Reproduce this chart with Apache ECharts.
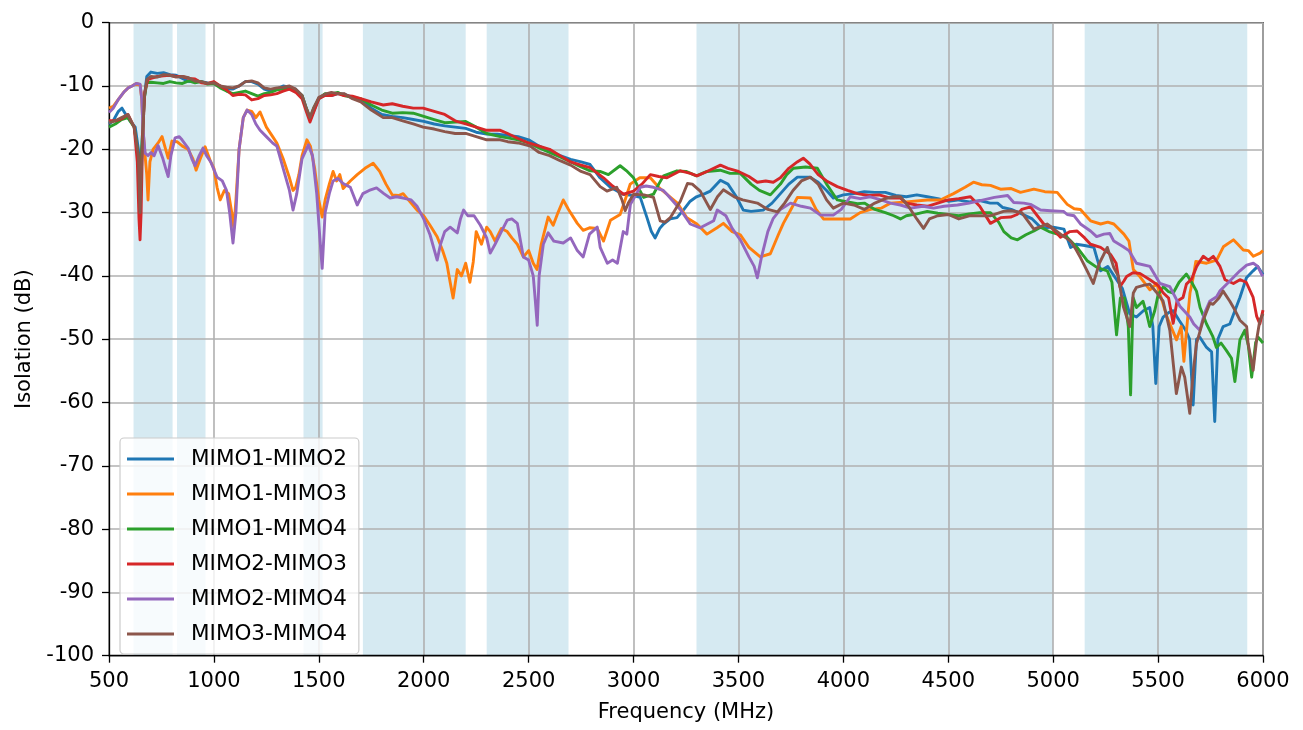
<!DOCTYPE html>
<html>
<head>
<meta charset="utf-8">
<script src="https://cdn.jsdelivr.net/npm/echarts@6/dist/echarts.min.js"></script>
<style>
html,body{margin:0;padding:0;background:#fff;}
#chart{width:1303px;height:730px;}
</style>
</head>
<body>
<div id="chart"></div>
<script>
const seriesNames = ['MIMO1-MIMO2','MIMO1-MIMO3','MIMO1-MIMO4','MIMO2-MIMO3','MIMO2-MIMO4','MIMO3-MIMO4'];
const xTicks = [500,1000,1500,2000,2500,3000,3500,4000,4500,5000,5500,6000];
const yTicks = [0,-10,-20,-30,-40,-50,-60,-70,-80,-90,-100];
const bands = [[617,803],[824,960],[1427,1518],[1710,2200],[2300,2690],[3300,5000],[5150,5925]];

const mimo12 = [[500,-16],[520,-15.5],[545,-14],[562,-13.5],[580,-14.5],[600,-15.5],[625,-16.5],[640,-20],[648,-25],[656,-20],[668,-12],[680,-8.5],[700,-7.8],[730,-8],[760,-7.9],[790,-8.2],[820,-8.3],[850,-8.8],[880,-9.3],[910,-9.2],[940,-9.3],[970,-9.5],[1000,-9.6],[1030,-10],[1060,-10.5],[1090,-10.5],[1120,-10],[1150,-9.3],[1180,-9.3],[1210,-9.7],[1240,-10.5],[1270,-10.8],[1300,-10.5],[1330,-10],[1360,-10.2],[1390,-10.5],[1420,-11.5],[1440,-13.5],[1458,-15.3],[1475,-14],[1500,-12],[1530,-11.3],[1560,-11.5],[1590,-11.2],[1620,-11.3],[1660,-11.8],[1700,-12.2],[1750,-13.5],[1800,-14.5],[1850,-14.8],[1900,-15],[1950,-15.3],[2000,-15.6],[2050,-16],[2100,-16.3],[2150,-16.5],[2200,-16.7],[2250,-17.3],[2300,-17.6],[2350,-17.6],[2400,-17.8],[2450,-18],[2500,-18.5],[2550,-19.5],[2600,-20.3],[2650,-21],[2700,-21.6],[2750,-22],[2793,-22.4],[2840,-24.5],[2889,-26],[2950,-27.1],[3000,-27.3],[3032,-27.6],[3064,-30.8],[3085,-33],[3103,-34],[3125,-32.5],[3143,-31.8],[3175,-31],[3207,-30.8],[3240,-29.5],[3270,-28.2],[3300,-27.5],[3340,-27],[3366,-26.6],[3414,-24.9],[3450,-25.5],[3490,-27.5],[3523,-29.6],[3560,-29.8],[3618,-29.6],[3660,-28.5],[3700,-27],[3740,-25.5],[3781,-24.4],[3840,-24.4],[3880,-25.2],[3920,-26.5],[3952,-27.7],[4000,-27.2],[4050,-27],[4100,-26.7],[4150,-26.8],[4200,-26.8],[4250,-27.3],[4300,-27.5],[4350,-27.2],[4400,-27.5],[4450,-27.8],[4500,-28.2],[4544,-28],[4600,-28.3],[4650,-28.1],[4700,-28.5],[4735,-28.5],[4760,-29.2],[4800,-29.5],[4850,-30.2],[4900,-31],[4936,-32.2],[4955,-32.4],[5000,-32.3],[5051,-32.6],[5083,-35.5],[5110,-35],[5150,-35.2],[5194,-35.5],[5226,-39.2],[5260,-38.5],[5300,-40.5],[5330,-42],[5365,-46],[5397,-46.5],[5430,-45.5],[5460,-45],[5475,-48],[5489,-57],[5505,-48],[5524,-46.5],[5550,-45.8],[5572,-45.5],[5600,-47],[5630,-48.5],[5650,-50],[5667,-60.4],[5683,-50],[5699,-49.7],[5731,-51.3],[5755,-52],[5770,-63],[5785,-50],[5810,-48],[5842,-47.6],[5866,-45.5],[5890,-43.4],[5921,-40.3],[5953,-39.2],[5975,-38.5],[6000,-39.8]];

const mimo13 = [[500,-13.5],[520,-13.2],[543,-12.2],[570,-11],[591,-10.3],[610,-10],[630,-9.6],[648,-9.8],[656,-12],[662,-16.8],[672,-21],[680,-24],[686,-28],[695,-22],[710,-20],[734,-19],[753,-18],[770,-20],[782,-21.4],[800,-18.7],[824,-18.8],[850,-19.5],[877,-20],[900,-21.5],[915,-23.3],[935,-21.5],[958,-19.6],[985,-22],[1000,-23],[1015,-26],[1030,-28],[1050,-26.5],[1070,-27],[1085,-30],[1095,-32.5],[1105,-28],[1120,-20],[1140,-15],[1158,-13.8],[1180,-14],[1200,-15],[1220,-14.1],[1250,-16.5],[1280,-18],[1300,-19],[1330,-21.5],[1360,-24.5],[1377,-26.5],[1390,-26],[1405,-24],[1420,-21],[1443,-18.5],[1460,-19.5],[1480,-23],[1500,-28],[1516,-30.7],[1530,-28],[1550,-25.5],[1568,-23.5],[1585,-25],[1600,-24],[1616,-26.2],[1650,-25],[1683,-24],[1720,-23],[1759,-22.2],[1790,-23.5],[1820,-25.5],[1850,-27.2],[1880,-27.3],[1902,-27],[1940,-28.5],[1968,-29.6],[2000,-30.5],[2030,-32],[2064,-33.8],[2090,-36],[2110,-38],[2126,-41],[2140,-43.5],[2160,-39],[2180,-40],[2200,-38],[2220,-41],[2236,-37.8],[2250,-33],[2275,-35],[2300,-32.3],[2317,-33],[2340,-34.5],[2370,-32.5],[2398,-33],[2420,-34],[2446,-35],[2475,-37],[2500,-36],[2522,-38],[2540,-39],[2560,-35],[2593,-30.7],[2617,-32],[2640,-30],[2665,-28],[2690,-29.5],[2732,-31.7],[2760,-32.8],[2790,-32.4],[2827,-32.5],[2857,-34.5],[2890,-31.2],[2936,-30.3],[2960,-28],[2984,-25.5],[3030,-24.5],[3080,-24.5],[3120,-26],[3159,-27.1],[3209,-28.5],[3254,-30.8],[3302,-31.8],[3350,-33.4],[3398,-32.4],[3428,-31.7],[3470,-33],[3509,-33.5],[3550,-35.5],[3604,-37],[3652,-36.5],[3690,-33.5],[3714,-31.7],[3750,-29.5],[3781,-27.6],[3843,-27.7],[3870,-29.5],[3905,-31],[3950,-31],[4000,-31],[4033,-31],[4080,-30],[4130,-29.5],[4180,-29.3],[4224,-28.5],[4300,-28.3],[4400,-28],[4462,-28],[4525,-27],[4580,-26],[4620,-25.2],[4660,-25.6],[4701,-25.7],[4749,-26.3],[4800,-26.2],[4844,-26.8],[4908,-26.3],[4960,-26.7],[5019,-26.8],[5067,-28.7],[5100,-29.4],[5130,-29.5],[5178,-31.3],[5226,-31.8],[5260,-31.5],[5289,-31.8],[5337,-33.4],[5361,-34.5],[5382,-39],[5413,-40.1],[5461,-42.2],[5493,-41.2],[5520,-44],[5541,-46.4],[5588,-50.1],[5610,-48],[5623,-53.5],[5640,-47],[5652,-42.7],[5667,-40.3],[5680,-37.7],[5731,-38],[5779,-37.5],[5811,-35.4],[5859,-34.3],[5880,-35],[5906,-35.9],[5930,-36],[5954,-36.9],[5986,-36.4],[6000,-36]];

const mimo14 = [[500,-16.5],[530,-16],[560,-15.3],[590,-15],[620,-16.5],[640,-21],[648,-28],[656,-20],[668,-12],[680,-9.5],[700,-9.4],[730,-9.5],[760,-9.6],[790,-9.3],[820,-9.5],[850,-9.6],[880,-9.2],[910,-9.5],[940,-9.3],[970,-9.7],[1000,-9.6],[1030,-10.3],[1060,-10.8],[1090,-11.2],[1120,-11],[1150,-10.8],[1180,-11.2],[1210,-11.6],[1240,-11.2],[1270,-11],[1300,-10.6],[1330,-10.5],[1360,-10.5],[1390,-10.6],[1420,-11.5],[1440,-13.5],[1458,-15],[1475,-13.5],[1500,-12],[1530,-11.2],[1560,-11.3],[1590,-11],[1620,-11.5],[1660,-11.8],[1700,-12],[1750,-13],[1800,-13.8],[1850,-14.3],[1900,-14.2],[1950,-14.3],[2000,-14.8],[2050,-15.3],[2100,-15.8],[2150,-15.7],[2200,-15.6],[2250,-16.5],[2300,-17.5],[2365,-18],[2400,-18.2],[2450,-18.5],[2500,-19],[2550,-19.8],[2600,-20.5],[2650,-21.2],[2700,-22],[2750,-22.8],[2793,-23.4],[2840,-23.5],[2880,-24],[2936,-22.6],[2970,-23.5],[3000,-24.5],[3030,-26.5],[3048,-27.6],[3095,-27.1],[3120,-25.5],[3143,-24.2],[3207,-23.4],[3250,-23.5],[3300,-24.2],[3350,-23.5],[3413,-23.3],[3460,-23.8],[3509,-23.8],[3560,-25.5],[3600,-26.5],[3652,-27.2],[3700,-25.5],[3730,-24],[3762,-23],[3820,-22.8],[3876,-23],[3920,-25.5],[3971,-28],[4020,-28.3],[4067,-28.6],[4100,-28.5],[4150,-29.5],[4200,-30],[4240,-30.5],[4272,-31],[4300,-30.5],[4350,-30.2],[4400,-29.8],[4450,-30.1],[4500,-30.3],[4550,-30.5],[4600,-30.2],[4650,-30],[4701,-30],[4740,-31.5],[4765,-33],[4800,-34],[4830,-34.3],[4870,-33.5],[4908,-32.9],[4940,-32.3],[4980,-33],[5021,-33.4],[5064,-33.8],[5114,-35.5],[5162,-37.6],[5210,-38.7],[5258,-39.2],[5280,-41],[5302,-49.3],[5320,-43.5],[5340,-43.5],[5358,-48],[5369,-58.8],[5381,-43.4],[5397,-45],[5428,-44],[5445,-45.9],[5460,-48],[5484,-45.5],[5500,-43],[5525,-41.7],[5550,-42.5],[5572,-42.7],[5600,-41],[5635,-39.7],[5660,-41],[5683,-42.4],[5700,-45],[5731,-47.6],[5760,-49.5],[5778,-51.3],[5800,-50.6],[5826,-51.8],[5850,-53],[5866,-56.7],[5890,-50.1],[5913,-48.6],[5930,-51],[5946,-56],[5965,-50.5],[5977,-49.7],[6000,-50.6]];

const mimo23 = [[500,-15.5],[530,-15.5],[560,-15.2],[590,-14.5],[620,-16.5],[635,-22],[643,-31],[648,-34.3],[653,-30],[660,-18],[670,-11],[685,-9],[700,-8.8],[730,-8.5],[760,-8.4],[790,-8.3],[820,-8.5],[850,-8.5],[880,-8.8],[910,-8.9],[940,-9.5],[970,-9.6],[1000,-9.3],[1030,-10],[1060,-10.6],[1090,-11.5],[1120,-11.3],[1150,-11.4],[1180,-12.2],[1210,-12],[1240,-11.5],[1270,-11.4],[1300,-11.2],[1330,-10.8],[1360,-10.5],[1390,-11],[1420,-12],[1440,-14],[1458,-15.7],[1475,-14.2],[1500,-12],[1530,-11.5],[1560,-11.5],[1590,-11.2],[1620,-11.5],[1660,-11.6],[1700,-12],[1750,-12.5],[1807,-13],[1850,-12.8],[1900,-13.2],[1950,-13.5],[1997,-13.5],[2050,-14],[2100,-14.5],[2150,-15.5],[2200,-16],[2250,-16.5],[2300,-17],[2365,-17],[2400,-17.5],[2450,-18.3],[2500,-19],[2550,-19.5],[2600,-20],[2650,-21],[2700,-22],[2750,-22.5],[2793,-22.9],[2857,-24.5],[2900,-25.8],[2952,-27.1],[3000,-26.6],[3040,-25.5],[3080,-24],[3120,-24.3],[3159,-24.5],[3223,-23.4],[3271,-23.8],[3302,-24.2],[3350,-23.5],[3414,-22.5],[3450,-23],[3500,-23.5],[3550,-24.3],[3590,-25.2],[3630,-25],[3666,-25.2],[3700,-24.5],[3740,-23],[3780,-22],[3809,-21.4],[3840,-22.3],[3880,-24],[3920,-25],[3971,-25.9],[4020,-26.5],[4067,-27],[4120,-27.3],[4170,-27.2],[4224,-27.7],[4272,-27.7],[4300,-28.5],[4350,-28.8],[4400,-29],[4450,-28.5],[4500,-28],[4550,-27.8],[4606,-27.5],[4650,-29],[4701,-31.7],[4750,-30.8],[4797,-30.7],[4828,-30.3],[4850,-29.5],[4892,-29.1],[4955,-31.8],[4990,-32.3],[5035,-33.9],[5080,-33],[5114,-32.9],[5150,-34],[5178,-35],[5226,-35.5],[5273,-36.6],[5300,-38],[5318,-41.7],[5337,-40.8],[5350,-40.1],[5380,-39.5],[5413,-39.6],[5461,-40.6],[5500,-41.5],[5525,-42.7],[5550,-43.5],[5572,-47.5],[5590,-44],[5619,-43.4],[5635,-41.3],[5660,-40.5],[5684,-38.5],[5715,-36.9],[5740,-37.5],[5763,-36.9],[5795,-38.5],[5819,-40.6],[5859,-41.2],[5890,-40.6],[5920,-41],[5953,-43.4],[5970,-46.4],[5985,-47.6],[6000,-45.4]];

const mimo24 = [[500,-14.2],[520,-13.5],[543,-12.2],[570,-11],[591,-10.3],[610,-10],[630,-9.6],[648,-9.7],[656,-12],[662,-16.8],[672,-20.6],[686,-21],[700,-20.5],[715,-21],[734,-19.4],[757,-21.5],[770,-23],[782,-24.3],[795,-21],[815,-18.2],[835,-18],[848,-18.5],[877,-19.8],[895,-21.5],[910,-22.6],[930,-21],[948,-19.8],[965,-21],[985,-22],[1015,-24.4],[1040,-25],[1060,-26.5],[1075,-30],[1091,-34.8],[1105,-30],[1120,-20],[1140,-15],[1158,-13.8],[1180,-14.5],[1200,-16],[1220,-17],[1250,-18],[1280,-19],[1300,-19.5],[1330,-23],[1360,-26.5],[1377,-29.6],[1395,-27],[1420,-21.5],[1450,-19.3],[1470,-21],[1490,-27],[1505,-34],[1516,-38.8],[1530,-30],[1550,-27],[1568,-25],[1590,-24.6],[1616,-25.4],[1650,-26],[1683,-28.8],[1710,-27],[1740,-26.5],[1775,-26.1],[1810,-27],[1840,-27.7],[1870,-27.5],[1902,-27.7],[1940,-28],[1968,-29],[2000,-31],[2030,-33.5],[2064,-37.5],[2080,-35],[2100,-33],[2126,-32.3],[2160,-33.2],[2175,-31],[2190,-29.6],[2210,-30.5],[2240,-30.5],[2270,-32],[2300,-34],[2317,-36.4],[2340,-35],[2370,-33],[2398,-31.2],[2420,-31],[2446,-31.7],[2475,-37],[2500,-37.5],[2522,-40],[2532,-44],[2541,-47.8],[2550,-40],[2570,-35],[2593,-33.2],[2620,-34.5],[2665,-34.8],[2700,-34],[2732,-36],[2760,-37],[2790,-33.4],[2827,-32.3],[2841,-35.5],[2875,-38],[2900,-37.5],[2923,-38],[2951,-33],[2968,-33.4],[2985,-28.7],[3032,-26],[3060,-25.8],[3095,-26],[3142,-26.5],[3159,-27.1],[3223,-29.5],[3270,-31.8],[3318,-32.4],[3382,-31.3],[3399,-29.6],[3440,-30.5],[3470,-32.5],[3509,-34.3],[3550,-37],[3575,-38.5],[3590,-40.3],[3610,-37],[3640,-33],[3666,-30.9],[3700,-29.5],[3748,-28.5],[3800,-29],[3843,-29.3],[3891,-30.4],[3952,-30.4],[3990,-29.5],[4033,-27.5],[4080,-27.8],[4128,-27.5],[4180,-28],[4224,-28.5],[4272,-28.8],[4320,-29.3],[4380,-29],[4430,-29.3],[4480,-29],[4544,-28.8],[4600,-28.5],[4668,-28],[4720,-27.6],[4783,-27.3],[4812,-28.4],[4860,-28.5],[4892,-28.7],[4940,-29.6],[4987,-29.7],[5049,-29.8],[5067,-30.3],[5100,-30.5],[5130,-31.8],[5178,-32.9],[5207,-33.8],[5242,-33.4],[5270,-33.3],[5289,-34.5],[5334,-35.4],[5361,-36],[5397,-38],[5461,-38.5],[5509,-41.2],[5556,-41.7],[5604,-44.8],[5651,-46.5],[5670,-47.6],[5699,-48.6],[5720,-46],[5746,-44],[5779,-43.3],[5794,-42.4],[5842,-40.8],[5890,-39.2],[5922,-38.3],[5954,-38],[5975,-38.5],[5994,-39.8],[6000,-40]];

const mimo34 = [[500,-15.8],[530,-15.5],[560,-15],[590,-14.5],[620,-16.5],[640,-21],[648,-30],[656,-22],[668,-12],[680,-9],[700,-8.5],[730,-8.6],[760,-8.2],[790,-8.3],[820,-8.6],[850,-8.5],[880,-8.7],[910,-9.2],[940,-9.3],[970,-9.6],[1000,-9.5],[1030,-10],[1060,-10.2],[1090,-10.3],[1120,-10],[1150,-9.3],[1180,-9.2],[1210,-9.5],[1240,-10.3],[1270,-10.5],[1300,-10.3],[1330,-10.2],[1360,-10],[1390,-10.5],[1420,-11.5],[1440,-13.5],[1458,-15],[1475,-13.5],[1500,-11.8],[1530,-11.3],[1560,-11],[1590,-11.2],[1620,-11.2],[1660,-12],[1700,-12.5],[1750,-13.8],[1807,-15],[1850,-15],[1900,-15.5],[1950,-16],[1997,-16.5],[2050,-16.8],[2100,-17.2],[2150,-17.5],[2200,-17.5],[2250,-18],[2300,-18.5],[2365,-18.5],[2400,-18.8],[2450,-19],[2508,-19.5],[2550,-20.5],[2600,-21],[2650,-21.8],[2700,-22.5],[2750,-23.5],[2793,-24],[2841,-25.9],[2873,-26.6],[2920,-26],[2945,-28],[2960,-29.7],[2975,-28.5],[3000,-27.1],[3050,-27.2],[3095,-27.6],[3127,-31.3],[3150,-31.5],[3175,-30.8],[3223,-28.2],[3257,-25.4],[3280,-25.5],[3318,-26.6],[3366,-29.5],[3400,-27.5],[3428,-26.4],[3480,-27.5],[3520,-28],[3590,-28.5],[3640,-29.5],[3686,-29.9],[3720,-28.5],[3760,-26.5],[3800,-25],[3843,-24.4],[3880,-25.5],[3920,-28],[3952,-29.3],[4000,-28.5],[4050,-28.8],[4100,-29.5],[4150,-28.5],[4200,-27.8],[4240,-27.5],[4272,-27.5],[4310,-29],[4350,-31],[4382,-32.5],[4410,-31],[4450,-30.5],[4500,-30.3],[4550,-31],[4600,-30.5],[4650,-30.5],[4700,-30.5],[4763,-29.8],[4800,-29.7],[4850,-30],[4908,-32.6],[4971,-31.8],[5035,-33.4],[5083,-34.5],[5110,-35.9],[5130,-37.1],[5162,-39.2],[5191,-41.2],[5220,-38],[5258,-35.5],[5289,-38.7],[5310,-40],[5334,-44.8],[5365,-48],[5382,-42.7],[5397,-41.8],[5430,-41.5],[5460,-41.3],[5490,-42.5],[5524,-44],[5556,-48.6],[5587,-58.6],[5611,-54.4],[5627,-56],[5651,-61.7],[5668,-55],[5683,-50.7],[5715,-47],[5747,-44.3],[5762,-44.5],[5790,-43.5],[5810,-42.4],[5842,-44],[5866,-45.4],[5890,-47],[5922,-48],[5929,-50.7],[5953,-54.9],[5970,-50],[5985,-47],[6000,-46]];

const seriesData = [mimo12, mimo13, mimo14, mimo23, mimo24, mimo34];
const colors = ['#1f77b4','#ff7f0e','#2ca02c','#d62728','#9467bd','#8c564b'];
const FONT = 'DejaVu Sans';

const chart = echarts.init(document.getElementById('chart'), null, {renderer:'canvas'});

const series = [{
  name: 'bands', type: 'line', data: [], z: 1, silent: true,
  markArea: {
    silent: true,
    itemStyle: {color: 'rgb(214,234,242)'},
    data: bands.map(b => [{xAxis: b[0]}, {xAxis: b[1]}])
  }
}];
seriesNames.forEach((n, i) => {
  series.push({
    name: n, type: 'line', data: seriesData[i], z: 3,
    symbol: 'none', showSymbol: false,
    lineStyle: {color: colors[i], width: 2.9, join: 'round'},
    itemStyle: {color: colors[i]},
    emphasis: {disabled: true}
  });
});

chart.setOption({
  animation: false,
  backgroundColor: '#fff',
  textStyle: {fontFamily: FONT},
  grid: {left: 109, right: 40, top: 22.7, bottom: 74.3, show: true, borderColor: '#000', borderWidth: 1.3, backgroundColor: 'transparent', z: 2},
  legend: {
    data: seriesNames, orient: 'vertical', left: 120, top: 438, z: 10,
    itemWidth: 47, itemHeight: 20, itemGap: 13,
    padding: [10, 12, 9, 7],
    backgroundColor: 'rgba(255,255,255,0.8)', borderColor: '#cccccc', borderWidth: 1.2, borderRadius: 4,
    textStyle: {fontFamily: FONT, fontSize: 21.5, color: '#000', padding: [0, 0, 0, 12]},
    icon: 'path://M0,8.5 L47,8.5 L47,11.5 L0,11.5 Z'
  },
  xAxis: {
    type: 'value', min: 500, max: 6000, interval: 500, z: 2,
    name: 'Frequency (MHz)', nameLocation: 'middle', nameGap: 46,
    nameTextStyle: {fontFamily: FONT, fontSize: 21, color: '#000'},
    axisLine: {show: true, onZero: false, lineStyle: {color: '#000', width: 1.3}},
    axisTick: {show: true, length: 7, lineStyle: {color: '#000', width: 1.3}},
    axisLabel: {fontFamily: FONT, fontSize: 21, color: '#000', margin: 15, formatter: v => String(v)},
    splitLine: {show: true, lineStyle: {color: '#b0b0b0', width: 1.6}}
  },
  yAxis: {
    type: 'value', min: -100, max: 0, interval: 10, z: 2,
    name: 'Isolation (dB)', nameLocation: 'middle', nameGap: 74,
    nameTextStyle: {fontFamily: FONT, fontSize: 21, color: '#000'},
    axisLine: {show: true, onZero: false, lineStyle: {color: '#000', width: 1.3}},
    axisTick: {show: true, length: 7, lineStyle: {color: '#000', width: 1.3}},
    axisLabel: {fontFamily: FONT, fontSize: 21, color: '#000', margin: 15, formatter: v => String(v)},
    splitLine: {show: true, lineStyle: {color: '#b0b0b0', width: 1.6}}
  },
  series: series
});
</script>
</body>
</html>
